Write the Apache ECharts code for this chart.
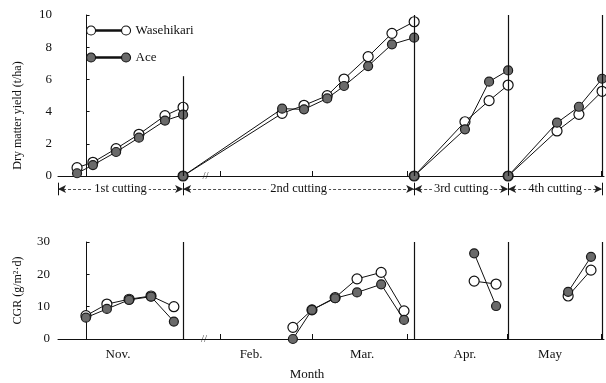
<!DOCTYPE html>
<html><head><meta charset="utf-8">
<script src="https://cdn.jsdelivr.net/npm/echarts@6/dist/echarts.min.js"></script>
<style>html,body{margin:0;padding:0;background:#fff}#c{width:606px;height:383px}</style>
</head><body><div id="c"></div>
<script>
// x = season timeline in days (Nov 1 = 0; Dec–Jan omitted, Feb 1 = 42)
// ---- Dry matter yield (t/ha) per cutting ----
const cut1X    = [-3.0, 2.0, 9.3, 16.5, 24.7, 30.4];
const cut1Wase = [0.52, 0.85, 1.70, 2.59, 3.75, 4.27];
const cut1Ace  = [0.17, 0.68, 1.49, 2.38, 3.44, 3.81];
const cut2X    = [30.4, 61.6, 68.5, 75.8, 81.1, 88.7, 96.2, 103.2];
const cut2Wase = [0, 3.89, 4.39, 4.99, 6.02, 7.41, 8.86, 9.58];
const cut2Ace  = [0, 4.18, 4.14, 4.82, 5.59, 6.83, 8.18, 8.59];
const cut3X    = [103.2, 119.2, 126.8, 132.8];
const cut3Wase = [0, 3.37, 4.68, 5.65];
const cut3Ace  = [0, 2.90, 5.86, 6.56];
const cut4X    = [132.8, 148.2, 155.1, 162.4];
const cut4Wase = [0, 2.80, 3.83, 5.26];
const cut4Ace  = [0, 3.31, 4.30, 6.04];
// ---- CGR (g/m2/d) ----
const cgrNovX  = [-0.2, 6.4, 13.4, 20.3, 27.5];
const cgrNovW  = [7.2, 10.8, 12.3, 13.3, 10.0];
const cgrNovA  = [6.6, 9.3, 12.1, 13.1, 5.4];
const cgrMarX  = [65.0, 71.0, 78.3, 85.2, 92.8, 100.0];
const cgrMarW  = [3.6, 9.0, 12.8, 18.6, 20.6, 8.7];
const cgrMarA  = [0.0, 9.0, 12.6, 14.4, 16.9, 5.9];
const cgrAprX  = [122.1, 129.0];
const cgrAprW  = [17.9, 17.0];
const cgrAprA  = [26.5, 10.2];
const cgrMayX  = [151.7, 158.9];
const cgrMayW  = [13.3, 21.3];
const cgrMayA  = [14.6, 25.4];
// ---- axes / annotations ----
const cutDates   = [30.4, 103.2, 132.8, 162.4];
const cutStartTop = [6.2, 10, 10, 10];
const cuttingNames = ['1st cutting', '2nd cutting', '3rd cutting', '4th cutting'];
const cuttingBounds = [-9, 30.4, 103.2, 132.8, 162.4];
const monthTicks = [0, 30.4, 42, 71, 101, 132.5, 162];
const monthNames = ['Nov.', 'Feb.', 'Mar.', 'Apr.', 'May'];
const monthLabelPos = [9.9, 51.8, 86.8, 119.2, 146.0];
const yieldTicks = [0, 2, 4, 6, 8, 10];
const cgrTicks = [0, 10, 20, 30];
const breakX = 37.5;

const FONT = 'Liberation Serif';
const X_MIN = -9, X_MAX = 163;
const zip = (xs, ys) => xs.map((x, i) => [x, ys[i]]);

const openStyle = {color: '#fff', borderColor: '#111', borderWidth: 1.2};
const fillStyle = {color: '#6a6a6a', borderColor: '#1a1a1a', borderWidth: 1.2};
function seg(name, xs, ys, idx, filled) {
  return {
    type: 'line', name, xAxisIndex: idx, yAxisIndex: idx,
    data: zip(xs, ys), symbol: 'circle', symbolSize: filled ? 9 : 10,
    showAllSymbol: true, clip: false,
    lineStyle: {color: '#111', width: 1},
    itemStyle: filled ? fillStyle : openStyle,
    z: filled ? 4 : 3
  };
}

const series = [];
const yieldSegs = [[cut1X, cut1Wase, cut1Ace], [cut2X, cut2Wase, cut2Ace], [cut3X, cut3Wase, cut3Ace], [cut4X, cut4Wase, cut4Ace]];
const cgrSegs = [[cgrNovX, cgrNovW, cgrNovA], [cgrMarX, cgrMarW, cgrMarA], [cgrAprX, cgrAprW, cgrAprA], [cgrMayX, cgrMayW, cgrMayA]];
yieldSegs.forEach(([x, w]) => series.push(seg('Wasehikari', x, w, 0, false)));
yieldSegs.forEach(([x, w, a]) => series.push(seg('Ace', x, a, 0, true)));
cgrSegs.forEach(([x, w]) => series.push(seg('Wasehikari', x, w, 2, false)));
cgrSegs.forEach(([x, w, a]) => series.push(seg('Ace', x, a, 2, true)));

// vertical cutting lines (top and bottom panels) + break marks
series.push({
  type: 'scatter', xAxisIndex: 0, yAxisIndex: 0, data: [[breakX, 0]], symbolSize: 0, silent: true,
  label: {show: true, position: 'inside', formatter: '//', fontFamily: FONT, fontSize: 11, color: '#111'},
  markLine: {silent: true, symbol: 'none', lineStyle: {color: '#111', width: 1.2, type: 'solid'}, label: {show: false},
    data: cutDates.map((d, i) => [{coord: [d, 0]}, {coord: [d, cutStartTop[i]]}])}
});
series.push({
  type: 'scatter', xAxisIndex: 2, yAxisIndex: 2, data: [[breakX - 0.5, 0]], symbolSize: 0, silent: true,
  label: {show: true, position: 'inside', formatter: '//', fontFamily: FONT, fontSize: 11, color: '#111'},
  markLine: {silent: true, symbol: 'none', lineStyle: {color: '#111', width: 1.2, type: 'solid'}, label: {show: false},
    data: cutDates.map(d => [{coord: [d, 0]}, {coord: [d, 30]}])}
});
// cutting-period arrows
const arrowData = cuttingNames.map((n, i) => [
  {coord: [cuttingBounds[i], 0.5], label: {formatter: n}},
  {coord: [cuttingBounds[i + 1], 0.5]}
]);
const barData = cuttingBounds.map(b => [{coord: [b, 0.05]}, {coord: [b, 0.95]}]);
series.push({
  type: 'scatter', xAxisIndex: 1, yAxisIndex: 1, data: [[0, 5]], symbolSize: 0, silent: true,
  markLine: {silent: true, symbol: ['arrow', 'arrow'], symbolSize: [6, 8],
    lineStyle: {color: '#222', width: 0.8, type: [3, 2]},
    label: {show: true, position: 'middle', distance: 0, fontFamily: FONT, fontSize: 12.5, color: '#111',
      backgroundColor: '#fff', padding: [0, 2], verticalAlign: 'middle'},
    data: arrowData}
});
series.push({
  type: 'scatter', xAxisIndex: 1, yAxisIndex: 1, data: [[0, 5]], symbolSize: 0, silent: true,
  markLine: {silent: true, symbol: 'none', lineStyle: {color: '#111', width: 1, type: 'solid'}, label: {show: false},
    data: barData}
});

const icon = 'path://M0,5A4.5,4.5,0,1,0,9,5A4.5,4.5,0,1,0,0,5ZM9,4.4L35,4.4L35,5.6L9,5.6ZM35,5A4.5,4.5,0,1,0,44,5A4.5,4.5,0,1,0,35,5Z';

const axisLineStyle = {show: true, lineStyle: {color: '#111', width: 1}};
const option = {
  animation: false,
  backgroundColor: '#fff',
  grid: [
    {left: 58, top: 15, width: 546, height: 161},
    {left: 58, top: 182, width: 546, height: 14},
    {left: 58, top: 242, width: 546, height: 97}
  ],
  legend: {
    orient: 'vertical', left: 81, top: 19, itemWidth: 44, itemHeight: 9, itemGap: 14,
    textStyle: {fontFamily: FONT, fontSize: 13, color: '#111'},
    data: [
      {name: 'Wasehikari', icon, itemStyle: {color: '#fff', borderColor: '#111', borderWidth: 1.1}},
      {name: 'Ace', icon, itemStyle: {color: '#6a6a6a', borderColor: '#111', borderWidth: 1.1}}
    ],
    selectedMode: false
  },
  xAxis: [
    {gridIndex: 0, type: 'value', min: X_MIN, max: X_MAX, axisLine: axisLineStyle,
      axisTick: {show: true, inside: true, length: 5, customValues: monthTicks, lineStyle: {color: '#111'}},
      axisLabel: {show: false}, splitLine: {show: false}},
    {gridIndex: 1, type: 'value', min: X_MIN, max: X_MAX, show: false},
    {gridIndex: 2, type: 'value', min: X_MIN, max: X_MAX, axisLine: axisLineStyle,
      axisTick: {show: true, inside: true, length: 5, customValues: monthTicks, lineStyle: {color: '#111'}},
      axisLabel: {show: true, customValues: monthLabelPos, margin: 9,
        formatter: v => monthNames[monthLabelPos.indexOf(v)] || '',
        fontFamily: FONT, fontSize: 13, color: '#111'},
      splitLine: {show: false},
      name: 'Month', nameLocation: 'middle', nameGap: 29,
      nameTextStyle: {fontFamily: FONT, fontSize: 13, color: '#111', padding: [0, 48, 0, 0]}}
  ],
  yAxis: [
    {gridIndex: 0, type: 'value', min: 0, max: 10, interval: 2, axisLine: axisLineStyle,
      axisTick: {show: true, inside: true, length: 3, lineStyle: {color: '#111'}},
      axisLabel: {fontFamily: FONT, fontSize: 13, color: '#111', margin: 6,
        customValues: yieldTicks},
      splitLine: {show: false},
      name: 'Dry matter yield (t/ha)', nameLocation: 'middle', nameGap: 34,
      nameTextStyle: {fontFamily: FONT, fontSize: 12, color: '#111', padding: [0, 40, 0, 0]}},
    {gridIndex: 1, type: 'value', min: 0, max: 1, show: false},
    {gridIndex: 2, type: 'value', min: 0, max: 30, interval: 10, axisLine: axisLineStyle,
      axisTick: {show: true, inside: true, length: 3, lineStyle: {color: '#111'}},
      axisLabel: {fontFamily: FONT, fontSize: 13, color: '#111', margin: 8, customValues: cgrTicks},
      splitLine: {show: false},
      name: 'CGR (g/m²·d)', nameLocation: 'middle', nameGap: 34,
      nameTextStyle: {fontFamily: FONT, fontSize: 12, color: '#111'}}
  ],
  series
};
const chart = echarts.init(document.getElementById('c'), null, {renderer: 'canvas'});
chart.setOption(option);
</script>
</body></html>
